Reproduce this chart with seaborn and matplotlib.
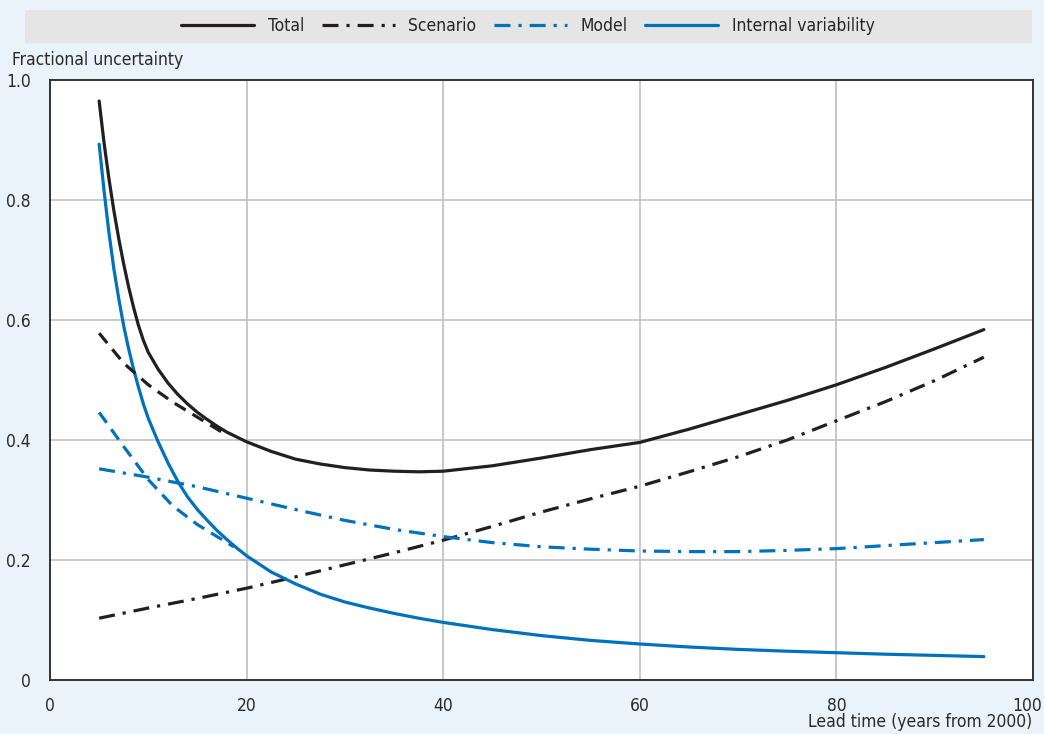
import numpy as np
import pandas as pd
import matplotlib
matplotlib.use("Agg")
import matplotlib.pyplot as plt
import matplotlib.transforms as mtransforms
from matplotlib.patches import Rectangle
import seaborn as sns

# --- valeurs ---
lead_fine = [5, 5.5, 6, 6.5, 7, 7.5, 8, 8.5, 9, 9.5, 10, 11, 12, 13, 14, 15, 16, 17,
             18, 19, 20, 22.5, 25, 27.5, 30, 32.5, 35, 37.5, 40, 45, 50, 55, 60,
             65, 70, 75, 80, 85, 90, 95]
total = [0.965, 0.895, 0.835, 0.782, 0.735, 0.693, 0.655, 0.621, 0.591, 0.566,
         0.546, 0.518, 0.495, 0.476, 0.460, 0.446, 0.434, 0.423, 0.413, 0.405,
         0.397, 0.381, 0.368, 0.360, 0.354, 0.350, 0.348, 0.347, 0.348, 0.357,
         0.370, 0.384, 0.396, 0.418, 0.442, 0.466, 0.492, 0.521, 0.552, 0.584]
internal = [0.893, 0.815, 0.745, 0.685, 0.635, 0.590, 0.552, 0.518, 0.488, 0.460,
            0.436, 0.397, 0.362, 0.331, 0.305, 0.284, 0.266, 0.249, 0.234, 0.220,
            0.207, 0.180, 0.160, 0.143, 0.130, 0.120, 0.111, 0.103, 0.096, 0.084,
            0.074, 0.066, 0.060, 0.055, 0.051, 0.048, 0.0455, 0.043, 0.041, 0.039]

lead_coarse = [5, 10, 15, 20, 25, 30, 35, 40, 45, 50, 55, 60, 65, 70, 75, 80, 85, 90, 95]
scenario = [0.103, 0.120, 0.136, 0.153, 0.172, 0.192, 0.212, 0.233, 0.256, 0.280,
            0.302, 0.323, 0.347, 0.372, 0.400, 0.432, 0.464, 0.499, 0.538]
model = [0.352, 0.338, 0.322, 0.303, 0.284, 0.266, 0.251, 0.239, 0.229, 0.222,
         0.218, 0.215, 0.214, 0.214, 0.216, 0.219, 0.224, 0.229, 0.234]

# courbes tiretées sans légende (début de période)
lead_early_black = [5, 7.5, 10, 12.5, 15, 18]
early_black = [0.578, 0.528, 0.492, 0.463, 0.438, 0.408]
lead_early_blue = [5, 7.5, 10, 12.5, 15, 18.7]
early_blue = [0.446, 0.389, 0.334, 0.290, 0.259, 0.222]

x_ticks = [0, 20, 40, 60, 80, 100]
y_ticks = [0, 0.2, 0.4, 0.6, 0.8, 1.0]
y_tick_labels = ["0", "0.2", "0.4", "0.6", "0.8", "1.0"]

BLACK = "#231f20"
BLUE = "#0071bc"
BG = "#eaf2fa"
TXT = "#2a2a2a"

sns.set_style("white")
plt.rcParams['font.family'] = ['DejaVu Sans']
plt.rcParams['font.stretch'] = 'condensed'

fig = plt.figure(figsize=(10.44, 7.34), dpi=100, facecolor=BG)
ax = fig.add_axes([50 / 1044, 1 - 680 / 734, 983 / 1044, 600 / 734])
ax.set_facecolor("white")

lw = 2.3
dashdot = (0, (5, 2.5, 1, 2.5))
sns.lineplot(x=lead_fine, y=total, ax=ax, color=BLACK, lw=lw, label="Total")
sns.lineplot(x=lead_coarse, y=scenario, ax=ax, color=BLACK, lw=lw,
             linestyle=dashdot, label="Scenario")
sns.lineplot(x=lead_coarse, y=model, ax=ax, color=BLUE, lw=lw,
             linestyle=dashdot, label="Model")
sns.lineplot(x=lead_fine, y=internal, ax=ax, color=BLUE, lw=lw,
             label="Internal variability")
sns.lineplot(x=lead_early_black, y=early_black, ax=ax, color=BLACK, lw=lw,
             linestyle=(0, (4, 2.5)))
sns.lineplot(x=lead_early_blue, y=early_blue, ax=ax, color=BLUE, lw=lw,
             linestyle=(0, (4, 2.5)))

ax.set_xlim(0, 100)
ax.set_ylim(0, 1.0)
ax.set_xticks(x_ticks)
ax.set_yticks(y_ticks)
ax.set_yticklabels(y_tick_labels)
ax.grid(True, color="#c4c4c8", lw=1.3)
ax.set_axisbelow(True)
ax.tick_params(direction="in", length=6, width=1.2, color="#555555",
               labelsize=12.5, labelcolor=TXT, pad=12)
ax.tick_params(axis="y", pad=14)
for s in ax.spines.values():
    s.set_color("#333333")
    s.set_linewidth(1.4)
ax.set_xlabel("")
ax.set_ylabel("")

# le "100" est décalé vers la gauche pour rester dans la figure
last = ax.get_xticklabels()[-1]
last.set_transform(last.get_transform() +
                   mtransforms.ScaledTranslation(-6 / 100, 0, fig.dpi_scale_trans))

fig.text(12 / 1044, 1 - 60 / 734, "Fractional uncertainty", fontsize=12.5,
         color=TXT, ha="left", va="center")
fig.text(1032 / 1044, 1 - 722 / 734, "Lead time (years from 2000)", fontsize=12.5,
         color=TXT, ha="right", va="center")

# bandeau de légende
fig.add_artist(Rectangle((25 / 1044, 1 - 43 / 734), 1007 / 1044, 33 / 734,
                         transform=fig.transFigure, facecolor="#e5e5e6",
                         edgecolor="none", zorder=0))
handles, labels = ax.get_legend_handles_labels()
ax.get_legend().remove()
fig.legend(handles, labels, loc="center", bbox_to_anchor=(528 / 1044, 1 - 26 / 734),
           ncol=4, frameon=False, fontsize=12.5, handlelength=4.2,
           columnspacing=1.0, handletextpad=0.8)

fig.savefig("out.png", dpi=100, facecolor=BG)
